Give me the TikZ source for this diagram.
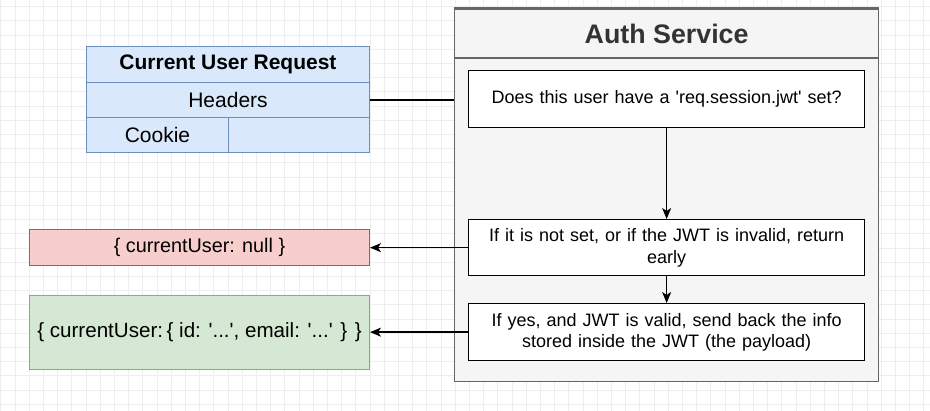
\documentclass[tikz,border=0pt]{standalone}
\usepackage{fontspec}
\setmainfont{Liberation Sans}
\usetikzlibrary{arrows.meta}

\definecolor{gridgray}{HTML}{EEEEEE}
\definecolor{reqfill}{HTML}{DAE8FC}
\definecolor{reqline}{HTML}{6C8EBF}
\definecolor{svcfill}{HTML}{F5F5F5}
\definecolor{svcline}{HTML}{666666}
\definecolor{svctext}{HTML}{333333}
\definecolor{nullfill}{HTML}{F8CECC}
\definecolor{nullline}{HTML}{B85450}
\definecolor{okfill}{HTML}{D5E8D4}
\definecolor{okline}{HTML}{82B366}

\newcommand{\sq}{\textquotesingle}

\tikzset{
  cell/.style={draw=reqline, fill=reqfill, line width=1pt, inner sep=0pt,
    font=\fontsize{21}{25}\selectfont},
  stepbox/.style={draw=black, fill=white, line width=1.3pt, inner sep=2pt,
    minimum width=396pt, minimum height=57pt, text width=386pt, align=center,
    font=\fontsize{18}{21.6}\selectfont},
  result/.style={line width=1pt, inner sep=0pt, minimum width=340pt,
    align=center, font=\fontsize{19.8}{23.5}\selectfont},
  flow/.style={line width=1.3pt, -{Stealth[length=11pt,width=9pt,inset=3pt]}},
  link/.style={line width=1.3pt}
}

\begin{document}
\begin{tikzpicture}[x=1pt, y=-1pt]
\useasboundingbox (0,0) rectangle (930,411);
\fill[white] (0,0) rectangle (930,411);

% background grid
\foreach \i in {0,...,65}
  \draw[gridgray, line width=0.8pt] ({0.8+14.2*\i},0) -- ({0.8+14.2*\i},411);
\foreach \j in {0,...,28}
  \draw[gridgray, line width=0.8pt] (0,{6.7+14.2*\j}) -- (930,{6.7+14.2*\j});

% request table
\node[cell, minimum width=283pt, minimum height=36pt, anchor=north west,
  font=\fontsize{21}{25}\selectfont\bfseries] (reqhead) at (86,46) {Current User Request};
\node[cell, minimum width=283pt, minimum height=35pt, anchor=north west] (headers) at (86,82) {Headers};
\node[cell, minimum width=142pt, minimum height=35pt, anchor=north west] (cookie) at (86,117) {Cookie};
\node[cell, minimum width=141pt, minimum height=35pt, anchor=north west] (cookieval) at (228,117) {};

% auth service container
\node[draw=svcline, fill=svcfill, line width=1.3pt, minimum width=424pt,
  minimum height=374pt, anchor=north west, inner sep=0pt] (auth) at (454,7) {};
\node[draw=svcline, line width=1.3pt, minimum width=424pt, minimum height=49pt,
  anchor=north west, inner sep=0pt, text=svctext,
  font=\fontsize{26.8}{32}\selectfont\bfseries] (authtitle) at (454,8.5) {Auth Service};

% steps
\node[stepbox, anchor=north west] (check) at (468,70)
  {Does this user have a \sq req.session.jwt\sq{} set?};
\node[stepbox, minimum height=56pt, anchor=north west] (invalid) at (468,219)
  {If it is not set, or if the JWT is invalid, return\\early};
\node[stepbox, anchor=north west] (valid) at (468,303)
  {If yes, and JWT is valid, send back the info\\stored inside the JWT (the payload)};

% results
\node[result, draw=nullline, fill=nullfill, minimum height=36pt, anchor=north west]
  (nulluser) at (29,229) {\{ currentUser: null \}};
\node[result, draw=okline, fill=okfill, minimum height=74pt, anchor=north west,
  font=\fontsize{20.6}{25}\selectfont]
  (okuser) at (29,295) {\{ currentUser:\,\{ id: \sq...\sq, email: \sq...\sq{} \} \}};

% connectors
\draw[link] (headers.east) -- (headers.east -| auth.west);
\draw[flow] (check.south) -- (invalid.north);
\draw[flow] (invalid.south) -- (valid.north);
\draw[flow] (invalid.west) -- (invalid.west -| nulluser.east);
\draw[flow] (valid.west) -- (valid.west -| okuser.east);
\end{tikzpicture}
\end{document}
